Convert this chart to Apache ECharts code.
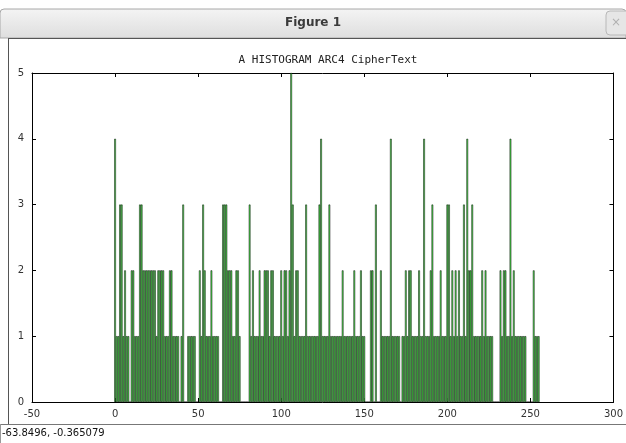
<!DOCTYPE html>
<html>
<head>
<meta charset="utf-8">
<script src="https://cdn.jsdelivr.net/npm/echarts@6/dist/echarts.min.js"></script>
<style>
  html, body { margin: 0; padding: 0; background: #fff; }
  #main { width: 626px; height: 443px; }
</style>
</head>
<body>
<div id="main"></div>
<script>
// byte value counts, bins 0..255
var counts = [
  4,1,1,3,3,1,2,1,1,0,2,2,1,1,1,3,
  3,2,2,2,2,2,2,2,2,1,2,2,2,2,1,1,
  1,2,2,1,1,1,1,0,1,3,0,0,1,1,1,1,
  1,0,0,2,1,3,2,1,1,1,2,1,1,1,1,0,
  0,3,3,3,2,2,2,1,1,2,2,1,0,0,0,0,
  0,3,1,2,1,1,1,2,1,1,2,2,2,1,2,2,
  1,1,1,1,2,1,2,2,1,2,5,3,1,2,2,1,
  1,1,1,3,1,1,1,1,1,1,1,3,4,1,1,1,
  1,3,1,1,1,1,1,1,1,2,1,1,1,1,1,1,
  2,1,1,1,2,1,1,0,0,0,2,2,0,3,0,0,
  2,1,1,1,1,1,4,1,1,1,1,1,0,1,1,2,
  1,2,2,1,1,1,1,2,1,1,4,1,1,1,2,3,
  1,1,1,1,2,1,1,1,3,3,1,2,1,2,1,2,
  1,1,3,1,4,2,2,3,1,1,1,1,1,2,1,2,
  1,1,1,1,0,0,0,0,2,1,2,2,1,1,4,1,
  2,1,1,1,1,1,1,1,0,0,0,0,2,1,1,1
]
var xRange = [-50, 300]
var yRange = [0, 5]

var barData = []
for (var i = 0; i < counts.length; i++) {
  barData.push([i, counts[i]])
}

var chart = echarts.init(document.getElementById('main'))

function xAxisOpt(pos, showLabel) {
  return {
    type: 'value',
    position: pos,
    min: xRange[0],
    max: xRange[1],
    interval: 50,
    axisLine: { show: true, onZero: false, lineStyle: { color: '#000', width: 1 } },
    axisTick: { show: true, inside: true, length: 4, lineStyle: { color: '#000' } },
    axisLabel: { show: showLabel, color: '#333', fontSize: 10, fontFamily: 'DejaVu Sans', margin: 7 },
    splitLine: { show: false }
  }
}
function yAxisOpt(pos, showLabel) {
  return {
    type: 'value',
    position: pos,
    min: yRange[0],
    max: yRange[1],
    interval: 1,
    axisLine: { show: true, onZero: false, lineStyle: { color: '#000', width: 1 } },
    axisTick: { show: true, inside: true, length: 4, lineStyle: { color: '#000' } },
    axisLabel: { show: showLabel, color: '#333', fontSize: 10, fontFamily: 'DejaVu Sans', margin: 8 },
    splitLine: { show: false }
  }
}

var option = {
  backgroundColor: '#fff',
  animation: false,
  title: {
    text: 'A HISTOGRAM ARC4 CipherText',
    left: 323,
    textAlign: 'center',
    top: 50,
    textStyle: { fontFamily: 'DejaVu Sans Mono', fontSize: 11, fontWeight: 'normal', color: '#222' }
  },
  grid: { left: 32, top: 73, right: 12, bottom: 41, containLabel: false },
  xAxis: [xAxisOpt('bottom', true), xAxisOpt('top', false)],
  yAxis: [yAxisOpt('left', true), yAxisOpt('right', false)],
  series: [
    {
      type: 'bar',
      xAxisIndex: 0,
      yAxisIndex: 0,
      data: barData,
      barWidth: 1.66,
      itemStyle: { color: '#55f055', borderColor: '#000', borderWidth: 0.5 }
    }
  ],
  graphic: [
    // window title bar
    {
      type: 'rect',
      shape: { x: 0, y: 9, width: 626, height: 29, r: [4, 4, 0, 0] },
      style: {
        fill: new echarts.graphic.LinearGradient(0, 0, 0, 1, [
          { offset: 0, color: '#f4f4f4' },
          { offset: 1, color: '#dedede' }
        ]),
        stroke: '#a8a8a8'
      },
      z: 10
    },
    {
      type: 'text',
      x: 313,
      y: 23,
      style: { text: 'Figure 1', font: 'bold 12px DejaVu Sans', fill: '#3a3a3a', textAlign: 'center', textVerticalAlign: 'middle' },
      z: 11
    },
    {
      type: 'rect',
      shape: { x: 606, y: 11, width: 24, height: 24, r: 4 },
      style: { fill: '#e6e6e6', stroke: '#b8b8b8' },
      z: 11
    },
    {
      type: 'text',
      x: 616,
      y: 23,
      style: { text: '×', font: '12px DejaVu Sans', fill: '#b0b0b0', textAlign: 'center', textVerticalAlign: 'middle' },
      z: 12
    },
    // figure canvas frame
    { type: 'line', shape: { x1: 8.5, y1: 38, x2: 8.5, y2: 424 }, style: { stroke: '#555', lineWidth: 1 }, z: 10 },
    { type: 'line', shape: { x1: 8, y1: 38.5, x2: 626, y2: 38.5 }, style: { stroke: '#555', lineWidth: 1 }, z: 10 },
    { type: 'line', shape: { x1: 0, y1: 424.5, x2: 626, y2: 424.5 }, style: { stroke: '#777', lineWidth: 1 }, z: 10 },
    { type: 'line', shape: { x1: 0.5, y1: 424, x2: 0.5, y2: 443 }, style: { stroke: '#999', lineWidth: 1 }, z: 10 },
    // status bar
    {
      type: 'text',
      x: 2,
      y: 433,
      style: { text: '-63.8496, -0.365079', font: '10px DejaVu Sans', fill: '#111', textVerticalAlign: 'middle' },
      z: 11
    }
  ]
}

chart.setOption(option)
</script>
</body>
</html>
